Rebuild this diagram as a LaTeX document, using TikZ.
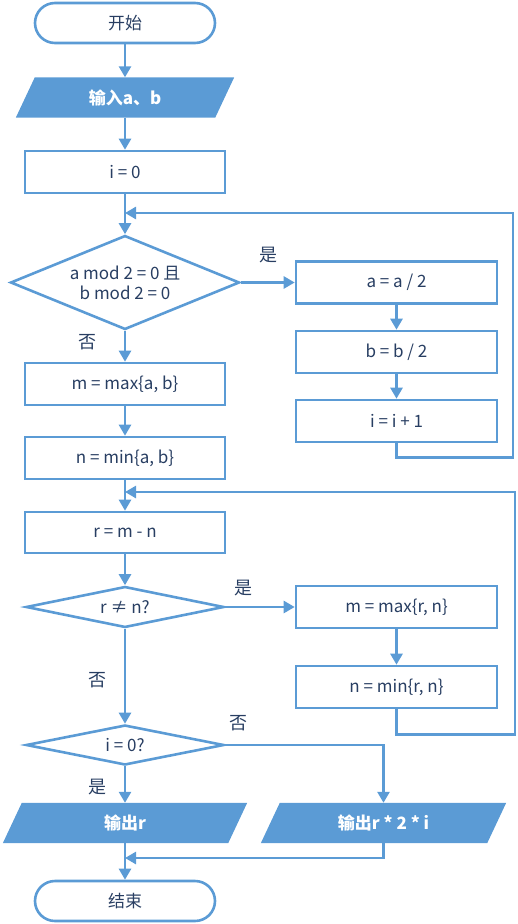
\documentclass[tikz,border=0pt]{standalone}
\usepackage{fontspec}
\setmainfont{Noto Sans CJK SC}
\usetikzlibrary{shapes.geometric,arrows.meta,calc}
\definecolor{fc}{RGB}{91,155,213}
\definecolor{tc}{RGB}{40,62,98}
\pgfdeclarelayer{bg}
\pgfsetlayers{bg,main}
\tikzset{
  line/.style={draw=fc, line width=2.6pt},
  arr/.style={line, -{Triangle[length=11pt,width=12pt]}},
  box/.style={draw=fc, line width=2.6pt, minimum width=200pt, minimum height=42pt, text=tc, inner sep=0pt},
  term/.style={box, rounded corners=20pt, minimum width=180pt, minimum height=40pt},
  dec/.style={diamond, draw=fc, line width=2.6pt, text=tc, inner sep=0pt, align=center},
  io/.style={text=white, font=\fontsize{17}{20}\selectfont\bfseries, inner sep=0pt, minimum height=40pt},
  lab/.style={text=tc, inner sep=0pt, font=\fontsize{18}{20}\selectfont}
}
\newcommand{\paral}[2]{\begin{pgfonlayer}{bg}\fill[fc] (#1.south west) -- ($(#1.north west)+(#2,0)$) -- (#1.north east) -- ($(#1.south east)-(#2,0)$) -- cycle;\end{pgfonlayer}}
\begin{document}
\begin{tikzpicture}[x=1pt,y=-1pt, font=\fontsize{17}{21}\selectfont]
\useasboundingbox (0,0) rectangle (517,924);
% nodes
\node[term] (start) at (125,23) {开始};
\node[io, minimum width=218pt] (in) at (125,97.5) {输入a、b};
\paral{in}{19}
\node[box] (i0) at (125,172) {i = 0};
\node[dec, aspect=2.44, minimum width=229pt, minimum height=94pt, font=\fontsize{17}{20}\selectfont] (d1) at (125,282.5) {a mod 2 = 0 且\\b mod 2 = 0};
\node[box, minimum width=201pt] (a2) at (396.5,282.5) {a = a / 2};
\node[box, minimum width=201pt] (b2) at (396.5,352) {b = b / 2};
\node[box, minimum width=201pt] (ii) at (396.5,421) {i = i + 1};
\node[box] (mx) at (125,384) {m = max\{a, b\}};
\node[box] (mn) at (125,458) {n = min\{a, b\}};
\node[box, minimum height=41pt] (r) at (125,532.5) {r = m - n};
\node[dec, aspect=4.8, minimum width=198pt, minimum height=41pt] (d2) at (125,607) {r ≠ n?};
\node[box, minimum width=201pt] (mxr) at (396.5,607) {m = max\{r, n\}};
\node[box, minimum width=201pt] (mnr) at (396.5,687) {n = min\{r, n\}};
\node[dec, aspect=4.9, minimum width=198pt, minimum height=40pt] (d3) at (125,745) {i = 0?};
\node[io, minimum width=244pt] (o1) at (125,823) {输出r};
\paral{o1}{19}
\node[io, minimum width=245pt] (o2) at (383.5,823) {输出r * 2 * i};
\paral{o2}{19}
\node[term] (end) at (125,901) {结束};
% junctions
\coordinate (j1) at (125,213);
\coordinate (r1) at (513,213);
\coordinate (j2) at (125,492);
\coordinate (r2) at (515,492);
\coordinate (j3) at (125,858);
% connectors
\draw[arr] (start) -- (in);
\draw[arr] (in) -- (i0);
\draw[arr] (i0) -- (d1);
\draw[arr] (d1.east) -- (a2.west);
\draw[arr] (a2) -- (b2);
\draw[arr] (b2) -- (ii);
\draw[arr] (ii.south) -- ++(0,14) -| (r1) -- (j1);
\draw[arr] (d1.south) -- (mx.north);
\draw[arr] (mx) -- (mn);
\draw[arr] (mn) -- (r);
\draw[arr] (r) -- (d2);
\draw[arr] (d2.east) -- (mxr.west);
\draw[arr] (mxr) -- (mnr);
\draw[arr] (mnr.south) -- ++(0,25) -| (r2) -- (j2);
\draw[arr] (d2.south) -- (d3.north);
\draw[arr] (d3.east) -| (o2.north);
\draw[arr] (d3.south) -- (o1.north);
\draw[arr] (o1.south) -- (end.north);
\draw[arr] (o2.south) |- (j3);
% labels
\node[lab] (y1) at (268,255) {是};
\node[lab] (n1) at (87,342) {否};
\node[lab] (y2) at (243,588) {是};
\node[lab] (n2) at (97,680) {否};
\node[lab] (n3) at (238,723) {否};
\node[lab] (y3) at (97,787) {是};
\end{tikzpicture}
\end{document}
